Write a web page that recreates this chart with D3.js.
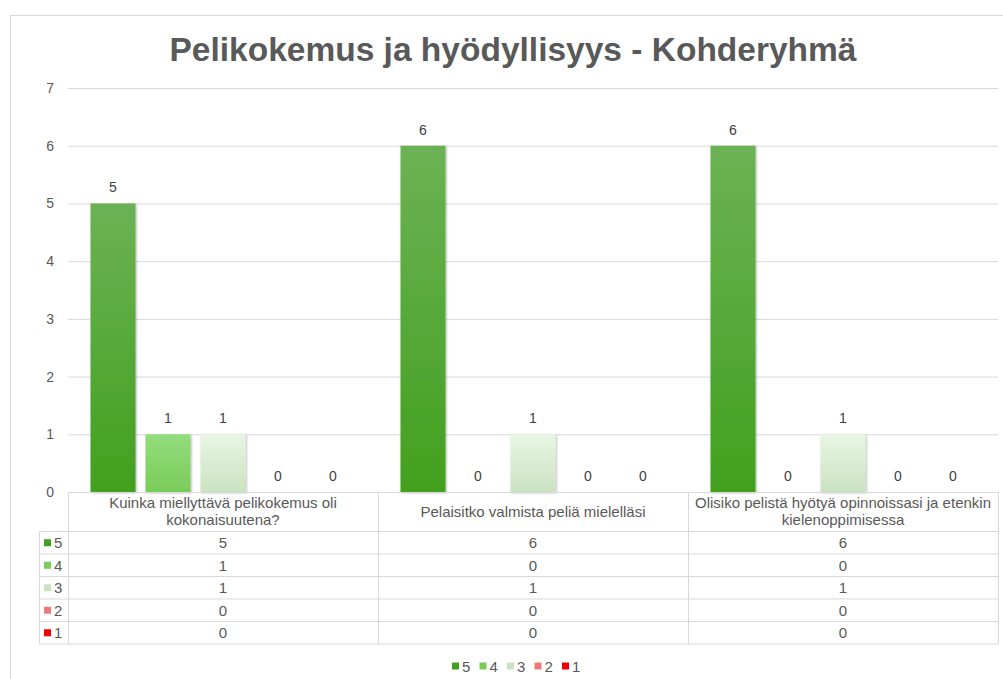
<!DOCTYPE html>
<html>
<head>
<meta charset="utf-8">
<script src="https://cdn.jsdelivr.net/npm/d3@7"></script>
<style>
  body { margin: 0; background: #fff; }
  svg { font-family: "Liberation Sans", Arial, sans-serif; }
</style>
</head>
<body>
<svg width="1003" height="679"></svg>
<script>
// data
const categories = [
  'Kuinka miellyttävä pelikokemus oli kokonaisuutena?',
  'Pelaisitko valmista peliä mielelläsi',
  'Olisiko pelistä hyötyä opinnoissasi ja etenkin kielenoppimisessa'
];
const seriesNames = ['5', '4', '3', '2', '1'];
const values5 = [5, 6, 6];
const values4 = [1, 0, 0];
const values3 = [1, 1, 1];
const values2 = [0, 0, 0];
const values1 = [0, 0, 0];
const yTicks = [0, 1, 2, 3, 4, 5, 6, 7];

const seriesValues = [values5, values4, values3, values2, values1];
// gradient top / bottom
const seriesColors = [
  ['#6cb254', '#42a01e'],
  ['#94dc7c', '#79cc58'],
  ['#e8f6e3', '#cbe2c2'],
  ['#f29494', '#ec7b7b'],
  ['#ff1a1a', '#f00000']
];

const svg = d3.select('svg');
const textColor = '#595959';
const gridColor = '#d9d9d9';

const margin = { left: 68, right: 998, top: 88, bottom: 492 };

// frame
svg.append('rect')
  .attr('x', 10.5).attr('y', 15.5)
  .attr('width', 1010).attr('height', 700)
  .attr('fill', '#fff').attr('stroke', gridColor);

const defs = svg.append('defs');
seriesColors.forEach((c, i) => {
  const g = defs.append('linearGradient')
    .attr('id', 'grad' + i)
    .attr('x1', 0).attr('y1', 0).attr('x2', 0).attr('y2', 1);
  g.append('stop').attr('offset', '0%').attr('stop-color', c[0]);
  g.append('stop').attr('offset', '100%').attr('stop-color', c[1]);
});
const shadow = defs.append('filter').attr('id', 'shadow')
  .attr('x', '-20%').attr('y', '-20%').attr('width', '140%').attr('height', '140%');
shadow.append('feDropShadow')
  .attr('dx', 1).attr('dy', 1).attr('stdDeviation', 1.2)
  .attr('flood-color', '#000').attr('flood-opacity', 0.3);

// title
svg.append('text')
  .attr('x', 513).attr('y', 61)
  .attr('text-anchor', 'middle')
  .attr('font-size', 33.5).attr('font-weight', 'bold')
  .attr('fill', textColor)
  .text('Pelikokemus ja hyödyllisyys - Kohderyhmä');

const x = d3.scaleBand().domain(categories).range([margin.left, margin.right]);
const xInner = d3.scaleBand().domain(seriesNames)
  .range([22.5, x.bandwidth() - 22.5]).paddingInner(10 / 55);
const y = d3.scaleLinear().domain([0, 7]).range([margin.bottom, margin.top]);

// gridlines
svg.append('g')
  .selectAll('line')
  .data(yTicks)
  .join('line')
  .attr('x1', margin.left).attr('x2', margin.right)
  .attr('y1', d => y(d) + 0.5).attr('y2', d => y(d) + 0.5)
  .attr('stroke', gridColor);

// y axis labels
const yAxis = svg.append('g')
  .attr('transform', `translate(${margin.left},0)`)
  .call(d3.axisLeft(y).tickValues(yTicks).tickFormat(d3.format('d')).tickSize(0).tickPadding(14));
yAxis.select('.domain').remove();
yAxis.selectAll('text')
  .attr('font-size', 14).attr('fill', textColor)
  .attr('font-family', '"Liberation Sans", Arial, sans-serif');

// bars
const bars = [];
categories.forEach((cat, ci) => {
  seriesNames.forEach((s, si) => {
    bars.push({ cat, s, si, v: seriesValues[si][ci] });
  });
});

svg.append('g')
  .selectAll('rect')
  .data(bars.filter(d => d.v > 0))
  .join('rect')
  .attr('x', d => x(d.cat) + xInner(d.s))
  .attr('y', d => y(d.v))
  .attr('width', xInner.bandwidth())
  .attr('height', d => y(0) - y(d.v))
  .attr('fill', d => `url(#grad${d.si})`)
  .attr('filter', 'url(#shadow)');

svg.append('g')
  .selectAll('text')
  .data(bars)
  .join('text')
  .attr('x', d => x(d.cat) + xInner(d.s) + xInner.bandwidth() / 2)
  .attr('y', d => y(d.v) - 11)
  .attr('text-anchor', 'middle')
  .attr('font-size', 14).attr('fill', '#404040')
  .text(d => d.v);

// data table
const headerBottom = 531.5;
const rowH = 22.5;
const legendLeft = 39.5;
const fs = 15;
const table = svg.append('g');

// vertical lines
x.domain().forEach(c => {
  table.append('line')
    .attr('x1', x(c) + 0.5).attr('x2', x(c) + 0.5)
    .attr('y1', margin.bottom).attr('y2', headerBottom + rowH * 5)
    .attr('stroke', gridColor);
});
table.append('line')
  .attr('x1', margin.right + 0.5).attr('x2', margin.right + 0.5)
  .attr('y1', margin.bottom).attr('y2', headerBottom + rowH * 5)
  .attr('stroke', gridColor);
table.append('line')
  .attr('x1', legendLeft).attr('x2', legendLeft)
  .attr('y1', headerBottom).attr('y2', headerBottom + rowH * 5)
  .attr('stroke', gridColor);
// horizontal lines
d3.range(6).forEach(i => {
  table.append('line')
    .attr('x1', legendLeft).attr('x2', margin.right + 0.5)
    .attr('y1', headerBottom + rowH * i).attr('y2', headerBottom + rowH * i)
    .attr('stroke', gridColor);
});
// x axis line
table.append('line')
  .attr('x1', margin.left).attr('x2', margin.right + 0.5)
  .attr('y1', margin.bottom + 0.5).attr('y2', margin.bottom + 0.5)
  .attr('stroke', gridColor);

// header text with wrap
categories.forEach(c => {
  const t = table.append('text')
    .attr('text-anchor', 'middle')
    .attr('font-size', fs).attr('fill', textColor);
  const words = c.split(' ');
  const lines = [];
  let line = [];
  const probe = table.append('text').attr('font-size', fs);
  words.forEach(w => {
    const test = line.concat(w).join(' ');
    probe.text(test);
    if (probe.node().getComputedTextLength() > x.bandwidth() - 2 && line.length) {
      lines.push(line.join(' '));
      line = [w];
    } else {
      line.push(w);
    }
  });
  lines.push(line.join(' '));
  probe.remove();
  const cx = x(c) + x.bandwidth() / 2;
  const mid = (margin.bottom + headerBottom) / 2;
  lines.forEach((l, i) => {
    t.append('tspan')
      .attr('x', cx)
      .attr('y', mid + 5 + (i - (lines.length - 1) / 2) * 17)
      .text(l);
  });
});

// rows
seriesNames.forEach((s, si) => {
  const cy = headerBottom + rowH * si + rowH / 2;
  table.append('rect')
    .attr('x', 44).attr('y', cy - 3.5)
    .attr('width', 7).attr('height', 7)
    .attr('fill', seriesColors[si][1]);
  table.append('text')
    .attr('x', 54).attr('y', cy + 5.5)
    .attr('font-size', fs).attr('fill', textColor)
    .text(s);
  categories.forEach((c, ci) => {
    table.append('text')
      .attr('x', x(c) + x.bandwidth() / 2).attr('y', cy + 5.5)
      .attr('text-anchor', 'middle')
      .attr('font-size', fs).attr('fill', textColor)
      .text(seriesValues[si][ci]);
  });
});

// legend
const legend = svg.append('g').attr('transform', 'translate(452,666)');
seriesNames.forEach((s, si) => {
  const g = legend.append('g').attr('transform', `translate(${si * 27.5},0)`);
  g.append('rect')
    .attr('x', 0).attr('y', -3.5)
    .attr('width', 7).attr('height', 7)
    .attr('fill', seriesColors[si][1]);
  g.append('text')
    .attr('x', 10).attr('y', 5.5)
    .attr('font-size', 15).attr('fill', textColor)
    .text(s);
});
</script>
</body>
</html>
